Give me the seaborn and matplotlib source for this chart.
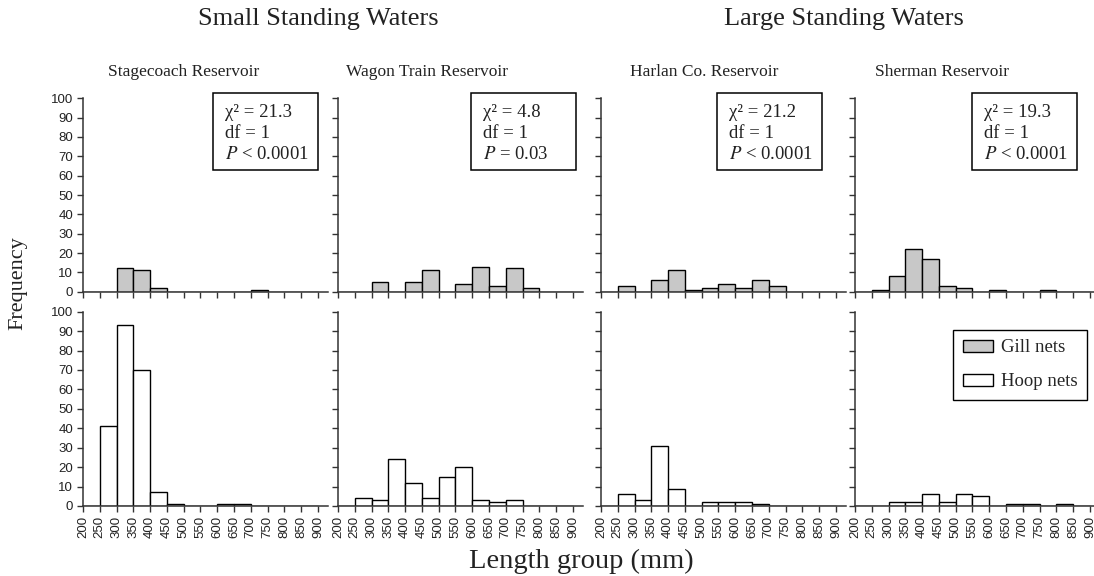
import matplotlib
matplotlib.use("Agg")
import matplotlib.pyplot as plt
from matplotlib.patches import Patch, Rectangle
import seaborn as sns

# length groups (left edge of each 50 mm bin)
length_groups = [200, 250, 300, 350, 400, 450, 500, 550, 600, 650, 700, 750, 800, 850]
bin_edges = length_groups + [900]

group_titles = ["Small Standing Waters", "Large Standing Waters"]
reservoirs = ["Stagecoach Reservoir", "Wagon Train Reservoir", "Harlan Co. Reservoir", "Sherman Reservoir"]

# frequencies
gill_stagecoach = [0, 0, 12, 11, 2, 0, 0, 0, 0, 0, 1, 0, 0, 0]
gill_wagon_train = [0, 0, 5, 0, 5, 11, 0, 4, 13, 3, 12, 2, 0, 0]
gill_harlan = [0, 3, 0, 6, 11, 1, 2, 4, 2, 6, 3, 0, 0, 0]
gill_sherman = [0, 1, 8, 22, 17, 3, 2, 0, 1, 0, 0, 1, 0, 0]

hoop_stagecoach = [0, 41, 93, 70, 7, 1, 0, 0, 1, 1, 0, 0, 0, 0]
hoop_wagon_train = [0, 4, 3, 24, 12, 4, 15, 20, 3, 2, 3, 0, 0, 0]
hoop_harlan = [0, 6, 3, 31, 9, 0, 2, 2, 2, 1, 0, 0, 0, 0]
hoop_sherman = [0, 0, 2, 2, 6, 2, 6, 5, 0, 1, 1, 0, 1, 0]

chi_square = ["21.3", "4.8", "21.2", "19.3"]
deg_freedom = ["1", "1", "1", "1"]
p_values = ["< 0.0001", "= 0.03", "< 0.0001", "< 0.0001"]

gill_rows = [gill_stagecoach, gill_wagon_train, gill_harlan, gill_sherman]
hoop_rows = [hoop_stagecoach, hoop_wagon_train, hoop_harlan, hoop_sherman]

GILL_COLOR = "#c8c8c8"
HOOP_COLOR = "white"
SERIF = "Liberation Serif"
SANS = "Liberation Sans"

sns.set_theme(style="ticks")
plt.rcParams["font.family"] = [SANS, "DejaVu Sans"]
plt.rcParams["mathtext.fontset"] = "stix"
plt.rcParams["axes.edgecolor"] = "#333333"
plt.rcParams["xtick.color"] = "#333333"
plt.rcParams["ytick.color"] = "#333333"

W, H = 1094, 576
fig = plt.figure(figsize=(W / 100, H / 100), dpi=100)

# layout in pixels
col_left = [83, 338, 601, 855]
ax_w = 245
row_bottom = [291.7, 506]
row_h = [193.4, 194.3]
title_x = [0.41, 0.365, 0.42, 0.355]
box_left = [0.531, 0.543, 0.473, 0.478]


def style_axis(ax, show_y, show_x):
    ax.set_xlim(200, 930)
    ax.set_ylim(0, 100)
    ax.set_xticks(bin_edges)
    ax.set_yticks(range(0, 101, 10))
    ax.tick_params(axis="both", length=4, width=1, pad=3, labelsize=9.5,
                   labelcolor="#222222")
    ax.tick_params(axis="x", labelrotation=90)
    if not show_y:
        ax.set_yticklabels([])
    if not show_x:
        ax.set_xticklabels([])
    ax.set_xlabel("")
    ax.set_ylabel("")
    sns.despine(ax=ax)
    for s in ["left", "bottom"]:
        ax.spines[s].set_linewidth(1.1)


for i in range(4):
    for r, (rows, color) in enumerate([(gill_rows, GILL_COLOR), (hoop_rows, HOOP_COLOR)]):
        ax = fig.add_axes([col_left[i] / W, 1 - row_bottom[r] / H,
                           ax_w / W, row_h[r] / H])
        sns.histplot(x=length_groups, weights=rows[i], bins=bin_edges, ax=ax,
                     color=color, edgecolor="black", linewidth=1, alpha=1)
        style_axis(ax, show_y=(i == 0), show_x=(r == 1))

        if r == 0:
            ax.set_title(reservoirs[i], x=title_x[i], pad=16, fontsize=12.5,
                         family=SERIF, color="#222222")
            ax.add_patch(Rectangle((box_left[i], 0.629), 0.429, 0.398,
                                   transform=ax.transAxes, fill=False,
                                   edgecolor="black", linewidth=1.1,
                                   clip_on=False, zorder=5))
            stats = ("\u03c7\u00b2 = " + chi_square[i] + "\n"
                     + "df = " + deg_freedom[i] + "\n"
                     + "$P$ " + p_values[i])
            ax.text(box_left[i] + 0.05, 0.97, stats, transform=ax.transAxes,
                    ha="left", va="top", fontsize=13.5, family=SERIF,
                    linespacing=1.3, color="#222222")
        if r == 1 and i == 3:
            handles = [Patch(facecolor=GILL_COLOR, edgecolor="black", linewidth=1),
                       Patch(facecolor=HOOP_COLOR, edgecolor="black", linewidth=1)]
            leg = ax.legend(handles, ["Gill nets", "Hoop nets"], loc="upper right",
                            bbox_to_anchor=(0.947, 0.906), borderaxespad=0,
                            frameon=True, fancybox=False, framealpha=1,
                            edgecolor="black",
                            prop={"family": SERIF, "size": 13.5},
                            handlelength=1.6, handleheight=0.6,
                            handletextpad=0.45, labelspacing=0.9,
                            borderpad=0.5)
            leg.get_frame().set_linewidth(1)

fig.text(318 / W, 1 - 19 / H, group_titles[0], ha="center", va="center",
         fontsize=19, family=SERIF, color="#222222")
fig.text(844 / W, 1 - 19 / H, group_titles[1], ha="center", va="center",
         fontsize=19, family=SERIF, color="#222222")
fig.text(18 / W, 1 - 283 / H, "Frequency", rotation=90, ha="center",
         va="center", fontsize=16, family=SERIF, color="#222222")
fig.text(581 / W, 1 - 561 / H, "Length group (mm)", ha="center",
         va="center", fontsize=20.5, family=SERIF, color="#222222")

fig.savefig("out.png", dpi=100, facecolor="white")
